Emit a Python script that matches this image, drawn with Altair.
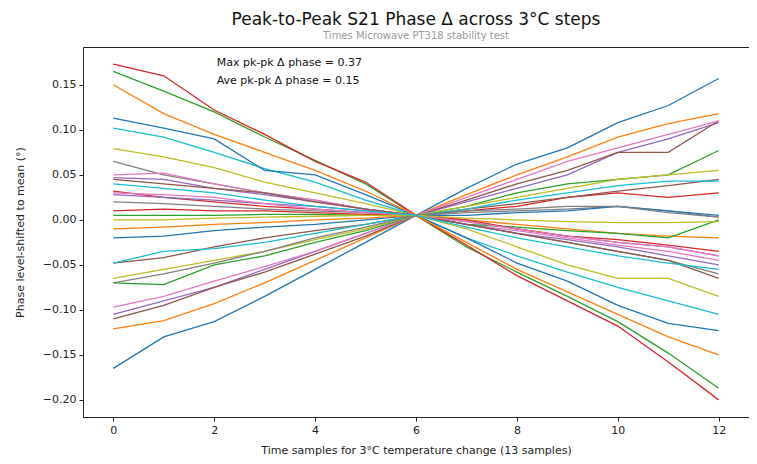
import altair as alt
import pandas as pd

x_samples = list(range(13))

series_values = [
    [-0.165, -0.130, -0.113, -0.085, -0.055, -0.025, 0.005, 0.035, 0.062, 0.080, 0.108, 0.127, 0.157],
    [-0.121, -0.112, -0.093, -0.070, -0.045, -0.020, 0.005, 0.028, 0.050, 0.070, 0.092, 0.107, 0.118],
    [0.165, 0.143, 0.120, 0.092, 0.066, 0.040, 0.005, -0.030, -0.058, -0.085, -0.113, -0.148, -0.187],
    [0.173, 0.160, 0.122, 0.095, 0.065, 0.042, 0.005, -0.028, -0.062, -0.090, -0.118, -0.158, -0.200],
    [-0.105, -0.090, -0.075, -0.055, -0.035, -0.015, 0.005, 0.020, 0.035, 0.050, 0.075, 0.090, 0.108],
    [-0.110, -0.095, -0.075, -0.058, -0.038, -0.018, 0.005, 0.022, 0.040, 0.055, 0.075, 0.075, 0.110],
    [-0.097, -0.085, -0.068, -0.052, -0.035, -0.015, 0.005, 0.025, 0.045, 0.065, 0.080, 0.095, 0.110],
    [0.065, 0.050, 0.040, 0.030, 0.022, 0.012, 0.005, -0.005, -0.015, -0.025, -0.035, -0.045, -0.060],
    [0.079, 0.070, 0.058, 0.042, 0.030, 0.018, 0.005, -0.010, -0.030, -0.050, -0.065, -0.065, -0.085],
    [0.102, 0.092, 0.075, 0.057, 0.042, 0.022, 0.005, -0.020, -0.040, -0.058, -0.075, -0.090, -0.105],
    [0.113, 0.102, 0.090, 0.055, 0.050, 0.028, 0.005, -0.020, -0.048, -0.068, -0.095, -0.115, -0.123],
    [0.150, 0.118, 0.095, 0.075, 0.055, 0.032, 0.005, -0.025, -0.055, -0.080, -0.105, -0.130, -0.150],
    [-0.070, -0.072, -0.050, -0.040, -0.025, -0.012, 0.005, 0.015, 0.030, 0.040, 0.045, 0.050, 0.077],
    [0.032, 0.025, 0.020, 0.015, 0.012, 0.008, 0.005, 0.010, 0.015, 0.025, 0.030, 0.025, 0.030],
    [0.047, 0.045, 0.035, 0.028, 0.020, 0.012, 0.005, -0.002, -0.010, -0.018, -0.025, -0.030, -0.040],
    [-0.048, -0.042, -0.030, -0.020, -0.012, -0.005, 0.005, 0.012, 0.018, 0.025, 0.032, 0.038, 0.045],
    [0.050, 0.052, 0.040, 0.030, 0.022, 0.012, 0.005, -0.005, -0.012, -0.020, -0.028, -0.035, -0.045],
    [0.020, 0.018, 0.015, 0.012, 0.010, 0.008, 0.005, 0.008, 0.010, 0.012, 0.015, 0.010, 0.003],
    [-0.065, -0.055, -0.045, -0.035, -0.022, -0.010, 0.005, 0.015, 0.025, 0.035, 0.045, 0.050, 0.055],
    [-0.048, -0.035, -0.032, -0.025, -0.015, -0.005, 0.005, 0.012, 0.022, 0.030, 0.038, 0.043, 0.043],
    [-0.020, -0.018, -0.012, -0.008, -0.005, 0.000, 0.005, 0.005, 0.008, 0.010, 0.015, 0.010, 0.005],
    [-0.010, -0.008, -0.005, -0.003, 0.000, 0.002, 0.005, 0.000, -0.005, -0.010, -0.015, -0.018, -0.020],
    [0.005, 0.005, 0.005, 0.006, 0.006, 0.005, 0.005, -0.005, -0.008, -0.012, -0.015, -0.020, 0.000],
    [0.010, 0.012, 0.010, 0.010, 0.008, 0.006, 0.005, 0.000, -0.010, -0.018, -0.022, -0.028, -0.035],
    [0.028, 0.025, 0.022, 0.018, 0.015, 0.010, 0.005, -0.005, -0.015, -0.022, -0.030, -0.040, -0.050],
    [0.045, 0.040, 0.035, 0.030, 0.020, 0.012, 0.005, -0.005, -0.015, -0.025, -0.035, -0.045, -0.065],
    [0.030, 0.028, 0.025, 0.018, 0.012, 0.008, 0.005, -0.002, -0.010, -0.018, -0.025, -0.030, -0.040],
    [-0.070, -0.060, -0.048, -0.035, -0.020, -0.008, 0.005, 0.010, 0.012, 0.015, 0.015, 0.008, 0.003],
    [0.000, 0.000, 0.002, 0.003, 0.004, 0.005, 0.005, 0.002, 0.000, -0.002, -0.003, -0.003, -0.002],
    [0.040, 0.035, 0.030, 0.022, 0.015, 0.010, 0.005, -0.008, -0.020, -0.030, -0.040, -0.048, -0.055],
]

tab10 = ["#1f77b4", "#ff7f0e", "#2ca02c", "#d62728", "#9467bd",
         "#8c564b", "#e377c2", "#7f7f7f", "#bcbd22", "#17becf"]

annotation_text = ["Max pk-pk \u0394 phase = 0.37", "Ave pk-pk \u0394 phase = 0.15"]
annotation_x = [2.05, 2.05]
annotation_y = [0.1745, 0.1545]

x_ticks = [0, 2, 4, 6, 8, 10, 12]
y_ticks = [-0.20, -0.15, -0.10, -0.05, 0.00, 0.05, 0.10, 0.15]

names = [f"s{i:02d}" for i in range(len(series_values))]
rows = []
for name, vals in zip(names, series_values):
    for xv, yv in zip(x_samples, vals):
        rows.append({"series": name, "x": xv, "y": yv})
df = pd.DataFrame(rows)
colors = [tab10[i % 10] for i in range(len(names))]

ann = pd.DataFrame({"x": annotation_x, "y": annotation_y, "t": annotation_text})

xscale = alt.Scale(domain=[-0.6, 12.6], nice=False, zero=False)
yscale = alt.Scale(domain=[-0.219, 0.192], nice=False, zero=False)

lines = alt.Chart(df).mark_line(strokeWidth=1.3, clip=True).encode(
    x=alt.X("x:Q", scale=xscale,
            axis=alt.Axis(values=x_ticks, format="d",
                          title="Time samples for 3\u00b0C temperature change (13 samples)",
                          titlePadding=9)),
    y=alt.Y("y:Q", scale=yscale,
            axis=alt.Axis(values=y_ticks,
                          labelExpr="replace(format(datum.value, '.2f'), '-', '\u2212')",
                          title="Phase level-shifted to mean (\u00b0)",
                          titlePadding=17)),
    color=alt.Color("series:N", scale=alt.Scale(domain=names, range=colors), legend=None),
    order=alt.Order("x:Q"),
)

texts = alt.Chart(ann).mark_text(align="left", baseline="middle", fontSize=11,
                                 color="#111", font="DejaVu Sans").encode(
    x=alt.X("x:Q", scale=xscale),
    y=alt.Y("y:Q", scale=yscale),
    text="t:N",
)

chart = alt.layer(lines, texts).properties(
    width=666, height=370,
    autosize=alt.AutoSizeParams(type="none"),
    padding={"left": 75, "top": 39, "right": 0, "bottom": 39},
    title=alt.TitleParams(
        text="Peak-to-Peak S21 Phase \u0394 across 3\u00b0C steps",
        subtitle="Times Microwave PT318 stability test",
        fontSize=17, fontWeight="normal", font="DejaVu Sans", color="#111",
        subtitleFontSize=10, subtitleColor="#999", subtitleFont="DejaVu Sans",
        subtitlePadding=2, offset=5, anchor="middle", frame="group",
    ),
).configure(font="DejaVu Sans").configure_view(
    stroke="#222", strokeWidth=1
).configure_axis(
    grid=False, domainColor="#222", tickColor="#222", tickSize=4,
    labelFontSize=11, labelColor="#222", labelPadding=3,
    titleFontSize=11, titleColor="#222", titleFontWeight="normal",
    labelFont="DejaVu Sans", titleFont="DejaVu Sans",
)

chart.save("out.html", embed_options={"renderer": "svg", "actions": False})
